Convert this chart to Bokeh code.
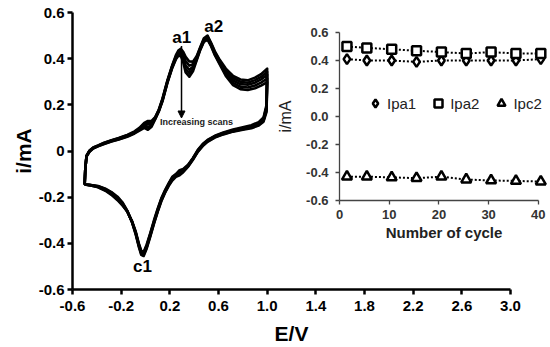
from bokeh.plotting import figure
from bokeh.layouts import column
from bokeh.models import (Range1d, FixedTicker, Arrow, NormalHead, Legend, LegendItem)
from bokeh.core.properties import value
from bokeh.embed import file_html
from bokeh.resources import INLINE

# ---------------- main CV data ----------------
E_anodic = [-0.50, -0.495, -0.485, -0.46, -0.43, -0.39, -0.34, -0.28, -0.22, -0.15, -0.09, -0.05,
            -0.01, 0.02, 0.05, 0.08, 0.11, 0.14, 0.18, 0.22, 0.25, 0.27, 0.29, 0.31, 0.33, 0.36,
            0.39, 0.42, 0.45, 0.48, 0.51, 0.54, 0.57, 0.61, 0.66, 0.72, 0.78, 0.84, 0.90, 0.95, 1.00]
E_cathodic = [0.995, 0.97, 0.93, 0.87, 0.80, 0.72, 0.64, 0.57, 0.51, 0.47, 0.43, 0.39, 0.35, 0.31,
              0.28, 0.25, 0.22, 0.19, 0.16, 0.13, 0.10, 0.07, 0.04, 0.01, -0.015, -0.035, -0.055,
              -0.08, -0.11, -0.15, -0.19, -0.23, -0.28, -0.33, -0.39, -0.45, -0.50]

i_cycle1_anodic = [-0.145, -0.08, -0.02, 0.002, 0.015, 0.024, 0.036, 0.047, 0.056, 0.070, 0.085, 0.100,
                   0.122, 0.130, 0.130, 0.147, 0.180, 0.228, 0.306, 0.372, 0.415, 0.435, 0.443, 0.430,
                   0.408, 0.388, 0.387, 0.410, 0.450, 0.488, 0.500, 0.468, 0.432, 0.395, 0.357, 0.325,
                   0.310, 0.306, 0.318, 0.333, 0.357]
i_cycle1_cathodic = [0.200, 0.145, 0.125, 0.112, 0.103, 0.093, 0.080, 0.066, 0.048, 0.030, 0.005, -0.030,
                     -0.060, -0.078, -0.083, -0.100, -0.112, -0.140, -0.170, -0.205, -0.250, -0.300,
                     -0.355, -0.405, -0.437, -0.432, -0.400, -0.350, -0.305, -0.262, -0.236, -0.213,
                     -0.190, -0.172, -0.157, -0.149, -0.145]

i_cycle10_anodic = [-0.145, -0.08, -0.021, 0.001, 0.014, 0.023, 0.035, 0.046, 0.055, 0.068, 0.083, 0.097,
                    0.117, 0.122, 0.124, 0.145, 0.178, 0.225, 0.303, 0.369, 0.410, 0.430, 0.437, 0.420,
                    0.390, 0.370, 0.376, 0.405, 0.447, 0.484, 0.495, 0.464, 0.428, 0.390, 0.348, 0.315,
                    0.300, 0.296, 0.307, 0.321, 0.343]
i_cycle10_cathodic = [0.192, 0.140, 0.121, 0.108, 0.100, 0.090, 0.078, 0.064, 0.046, 0.028, 0.003, -0.032,
                      -0.062, -0.081, -0.088, -0.102, -0.116, -0.143, -0.173, -0.208, -0.254, -0.304,
                      -0.358, -0.410, -0.441, -0.437, -0.404, -0.353, -0.306, -0.262, -0.232, -0.210,
                      -0.187, -0.170, -0.156, -0.149, -0.145]

i_cycle20_anodic = [-0.145, -0.08, -0.022, 0.000, 0.013, 0.022, 0.033, 0.044, 0.053, 0.066, 0.080, 0.094,
                    0.112, 0.115, 0.117, 0.142, 0.176, 0.222, 0.300, 0.366, 0.405, 0.424, 0.430, 0.410,
                    0.370, 0.352, 0.365, 0.400, 0.443, 0.480, 0.490, 0.460, 0.424, 0.385, 0.340, 0.305,
                    0.290, 0.287, 0.296, 0.310, 0.330]
i_cycle20_cathodic = [0.185, 0.135, 0.117, 0.105, 0.097, 0.088, 0.076, 0.062, 0.044, 0.025, 0.000, -0.034,
                      -0.064, -0.085, -0.093, -0.105, -0.120, -0.146, -0.176, -0.212, -0.258, -0.308,
                      -0.362, -0.414, -0.446, -0.441, -0.408, -0.356, -0.308, -0.262, -0.228, -0.206,
                      -0.183, -0.167, -0.154, -0.148, -0.145]

i_cycle30_anodic = [-0.145, -0.08, -0.023, -0.002, 0.012, 0.021, 0.031, 0.042, 0.051, 0.064, 0.078, 0.091,
                    0.106, 0.103, 0.111, 0.140, 0.174, 0.219, 0.297, 0.363, 0.401, 0.418, 0.421, 0.397,
                    0.355, 0.337, 0.355, 0.396, 0.440, 0.476, 0.486, 0.456, 0.419, 0.380, 0.332, 0.295,
                    0.279, 0.275, 0.284, 0.296, 0.314]
i_cycle30_cathodic = [0.178, 0.131, 0.113, 0.102, 0.094, 0.086, 0.074, 0.060, 0.042, 0.023, -0.002, -0.036,
                      -0.066, -0.088, -0.099, -0.108, -0.124, -0.149, -0.179, -0.215, -0.261, -0.311,
                      -0.366, -0.418, -0.450, -0.445, -0.411, -0.359, -0.309, -0.260, -0.225, -0.202,
                      -0.180, -0.165, -0.153, -0.147, -0.145]

i_cycle40_anodic = [-0.145, -0.08, -0.024, -0.003, 0.011, 0.020, 0.030, 0.041, 0.050, 0.062, 0.076, 0.088,
                    0.100, 0.092, 0.105, 0.138, 0.172, 0.216, 0.295, 0.360, 0.398, 0.413, 0.412, 0.385,
                    0.340, 0.322, 0.345, 0.392, 0.438, 0.473, 0.482, 0.453, 0.415, 0.375, 0.325, 0.285,
                    0.268, 0.264, 0.272, 0.283, 0.298]
i_cycle40_cathodic = [0.170, 0.127, 0.110, 0.099, 0.092, 0.084, 0.072, 0.058, 0.040, 0.021, -0.004, -0.038,
                      -0.068, -0.092, -0.105, -0.112, -0.128, -0.152, -0.182, -0.218, -0.264, -0.315,
                      -0.370, -0.422, -0.455, -0.450, -0.415, -0.362, -0.310, -0.258, -0.222, -0.198,
                      -0.178, -0.163, -0.152, -0.147, -0.145]

peak_names = ["a1", "a2", "c1"]
peak_E = [0.298, 0.56, -0.025]
peak_i = [0.493, 0.54, -0.50]

arrow_E = 0.296
arrow_i_top = 0.455
arrow_i_bottom = 0.143
note_text = ["Increasing scans"]
note_E = [0.42]
note_i = [0.126]

x_ticks = [-0.6, -0.2, 0.2, 0.6, 1.0, 1.4, 1.8, 2.2, 2.6, 3.0]
x_tick_labels = ["-0.6", "-0.2", "0.2", "0.6", "1.0", "1.4", "1.8", "2.2", "2.6", "3.0"]
y_ticks = [-0.6, -0.4, -0.2, 0, 0.2, 0.4, 0.6]
y_tick_labels = ["-0.6", "-0.4", "-0.2", "0", "0.2", "0.4", "0.6"]

# ---------------- inset data ----------------
cycles = [1.5, 5.5, 10.5, 15.5, 20.5, 25.5, 30.5, 35.5, 40.5]
Ipa1 = [0.41, 0.40, 0.40, 0.39, 0.40, 0.40, 0.40, 0.40, 0.41]
Ipa2 = [0.50, 0.49, 0.48, 0.47, 0.46, 0.45, 0.46, 0.45, 0.45]
Ipc2 = [-0.43, -0.43, -0.435, -0.44, -0.43, -0.45, -0.457, -0.46, -0.465]
inset_x_ticks = [0, 10, 20, 30, 40]
inset_x_labels = ["0", "10", "20", "30", "40"]
inset_y_ticks = [-0.6, -0.4, -0.2, 0, 0.2, 0.4, 0.6]
inset_y_labels = ["-0.6", "-0.4", "-0.2", "0.0", "0.2", "0.4", "0.6"]

FONT = "Liberation Sans"

# ---------------- main figure ----------------
p = figure(width=550, height=347, x_range=Range1d(-0.6, 3.0), y_range=Range1d(-0.6, 0.6),
           output_backend="svg", toolbar_location=None, frame_align=False,
           min_border_left=72, min_border_right=40, min_border_top=12, min_border_bottom=57)
p.outline_line_color = None
p.grid.visible = False
p.background_fill_color = "white"
p.border_fill_color = "white"

cycle_set = [(i_cycle1_anodic, i_cycle1_cathodic), (i_cycle10_anodic, i_cycle10_cathodic),
             (i_cycle20_anodic, i_cycle20_cathodic), (i_cycle30_anodic, i_cycle30_cathodic),
             (i_cycle40_anodic, i_cycle40_cathodic)]
for an, ca in cycle_set:
    p.line(E_anodic + E_cathodic, an + ca, line_color="black", line_width=2.6, line_join="round")

p.text(x=peak_E, y=peak_i, text=peak_names, text_align="center", text_baseline="middle",
       text_font=value(FONT), text_font_style="bold", text_font_size="17px", text_color="black")
p.text(x=note_E, y=note_i, text=note_text, text_align="center", text_baseline="middle",
       text_font=value(FONT), text_font_style="bold", text_font_size="9px", text_color="#222222")
p.add_layout(Arrow(x_start=arrow_E, y_start=arrow_i_top, x_end=arrow_E, y_end=arrow_i_bottom,
                   line_width=1.5, line_color="black",
                   end=NormalHead(size=7, fill_color="black", line_color="black")))

for ax in (p.xaxis[0], p.yaxis[0]):
    ax.axis_line_width = 2.5
    ax.axis_line_color = "black"
    ax.major_tick_line_width = 2.5
    ax.major_tick_line_color = "black"
    ax.major_tick_out = 5
    ax.major_tick_in = 0
    ax.minor_tick_line_color = None
    ax.major_label_text_font = FONT
    ax.major_label_text_font_style = "bold"
    ax.major_label_text_font_size = "15px"
    ax.major_label_text_color = "black"
    ax.axis_label_text_font = FONT
    ax.axis_label_text_font_style = "bold"
    ax.axis_label_text_font_size = "21px"
    ax.axis_label_text_color = "black"

p.xaxis.ticker = FixedTicker(ticks=x_ticks)
p.xaxis.major_label_overrides = dict(zip(x_ticks, x_tick_labels))
p.yaxis.ticker = FixedTicker(ticks=y_ticks)
p.yaxis.major_label_overrides = dict(zip(y_ticks, y_tick_labels))
p.xaxis.axis_label = "E/V"
p.yaxis.axis_label = "i/mA"
p.xaxis.major_label_standoff = 6
p.xaxis.axis_label_standoff = 8
p.yaxis.major_label_standoff = 3
p.yaxis.axis_label_standoff = 1

# ---------------- inset figure ----------------
q = figure(width=276, height=228, x_range=Range1d(0, 42.05), y_range=Range1d(-0.6, 0.6),
           output_backend="svg", toolbar_location=None, frame_align=False,
           min_border_left=65, min_border_right=2, min_border_top=12, min_border_bottom=48)
q.outline_line_color = None
q.grid.visible = False
q.background_fill_alpha = 0
q.border_fill_alpha = 0
q.margin = (-327, 0, 0, 274)

line_kw = dict(line_color="black", line_width=2, line_dash="2 2")
q.line(cycles, Ipa2, **line_kw)
q.line(cycles, Ipa1, **line_kw)
q.line(cycles, Ipc2, **line_kw)
mk_kw = dict(fill_color="white", line_color="black", line_width=2.5)
r1 = q.scatter(cycles, Ipa1, marker="diamond", size=10, **mk_kw)
r2 = q.scatter(cycles, Ipa2, marker="square", size=9, **mk_kw)
r3 = q.scatter(cycles, Ipc2, marker="triangle", size=10, **mk_kw)

legend = Legend(items=[LegendItem(label="Ipa1", renderers=[r1]),
                       LegendItem(label="Ipa2", renderers=[r2]),
                       LegendItem(label="Ipc2", renderers=[r3])],
                location=(26, 86), orientation="horizontal", padding=0, margin=0,
                spacing=12, glyph_width=20, glyph_height=22, label_standoff=2,
                label_text_font=FONT, label_text_font_size="15px", label_text_color="#222222",
                border_line_alpha=0, background_fill_alpha=0)
q.add_layout(legend)

for ax in (q.xaxis[0], q.yaxis[0]):
    ax.axis_line_width = 1.3
    ax.axis_line_color = "#444444"
    ax.major_tick_line_width = 1.3
    ax.major_tick_line_color = "#444444"
    ax.major_tick_out = 4
    ax.major_tick_in = 0
    ax.minor_tick_line_color = None
    ax.major_label_text_font = FONT
    ax.major_label_text_font_style = "bold"
    ax.major_label_text_font_size = "13px"
    ax.major_label_text_color = "#333333"
    ax.axis_label_text_font = FONT
    ax.axis_label_text_color = "#222222"

q.xaxis.ticker = FixedTicker(ticks=inset_x_ticks)
q.xaxis.major_label_overrides = dict(zip(inset_x_ticks, inset_x_labels))
q.xaxis.bounds = (0, 40)
q.yaxis.ticker = FixedTicker(ticks=inset_y_ticks)
q.yaxis.major_label_overrides = dict(zip(inset_y_ticks, inset_y_labels))
q.xaxis.axis_label = "Number of cycle"
q.xaxis.axis_label_text_font_style = "bold"
q.xaxis.axis_label_text_font_size = "15px"
q.xaxis.major_label_standoff = 5
q.xaxis.axis_label_standoff = 2
q.yaxis.axis_label = "i/mA"
q.yaxis.axis_label_text_font_style = "normal"
q.yaxis.axis_label_text_font_size = "16px"
q.yaxis.major_label_standoff = 7
q.yaxis.axis_label_standoff = 9

page = column(p, q, spacing=0)

open("out.html", "w").write(file_html(page, INLINE))
